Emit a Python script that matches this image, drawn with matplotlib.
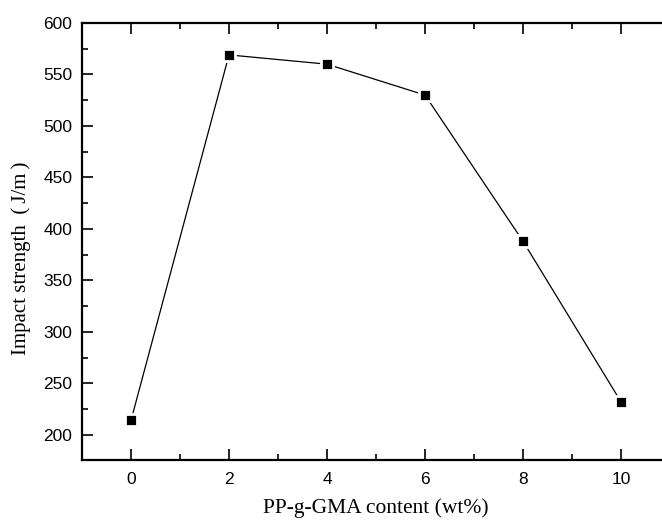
import matplotlib.pyplot as plt

# PP-g-GMA content (wt%) vs notched impact strength
gma_content = [0, 2, 4, 6, 8, 10]
impact_strength = [214, 569, 560, 530, 388, 232]

x_ticks = [0, 2, 4, 6, 8, 10]
y_ticks = [200, 250, 300, 350, 400, 450, 500, 550, 600]

W, H = 662, 522
fig = plt.figure(figsize=(W / 100, H / 100), dpi=100)
# axes box in pixels: left 82, right 670 (runs past the edge), top 23, bottom 460
ax = fig.add_axes([82 / W, (H - 460) / H, (670 - 82) / W, (460 - 23) / H])

# white marker edge leaves the small gap between line and squares
ax.plot(gma_content, impact_strength, color="black", linewidth=0.9,
        marker="s", markersize=9.2, markerfacecolor="black",
        markeredgecolor="white", markeredgewidth=2)

ax.set_xlim(-1, 11)
ax.set_ylim(175.5, 600)
ax.set_xticks(x_ticks)
ax.set_yticks(y_ticks)
ax.set_xticks([1, 3, 5, 7, 9], minor=True)
ax.set_yticks([225, 275, 325, 375, 425, 475, 525, 575], minor=True)

for side in ax.spines.values():
    side.set_linewidth(1.6)

ax.tick_params(which="both", direction="in", top=True, right=False,
               width=1.2, labelsize=12.5)
ax.tick_params(axis="y", pad=7)
ax.tick_params(axis="x", pad=9)
ax.tick_params(which="major", length=8)
ax.tick_params(which="minor", length=4)
for lbl in ax.get_xticklabels() + ax.get_yticklabels():
    lbl.set_fontfamily("Liberation Sans")

ax.set_xlabel("PP-g-GMA content (wt%)", family="Liberation Serif",
              fontsize=15.5, labelpad=8)
ax.set_ylabel("Impact strength\u2002(\u2009J/m\u2009)",
              family=["Liberation Serif", "DejaVu Serif"],
              fontsize=15, labelpad=9)
ax.yaxis.label.set_y(0.461)

fig.savefig("out.png", dpi=100)
